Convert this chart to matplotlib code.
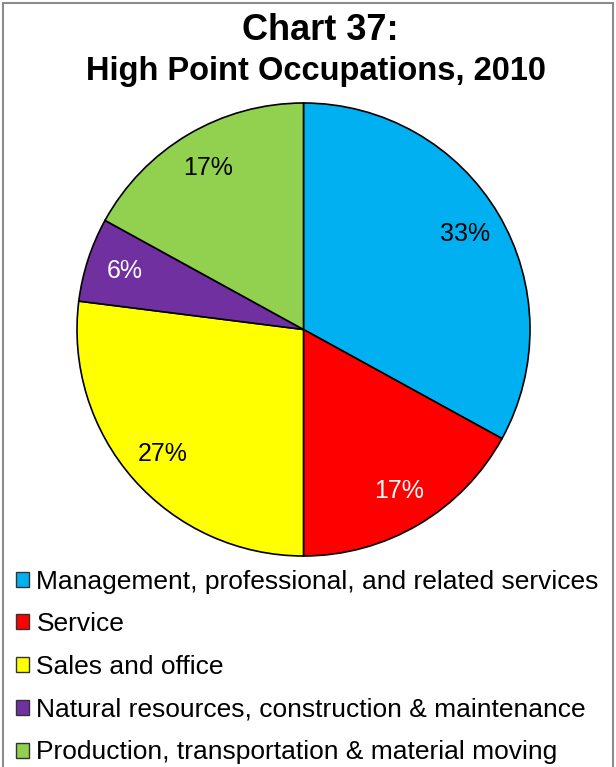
import matplotlib
matplotlib.use("Agg")
import matplotlib.pyplot as plt
from matplotlib.patches import Patch, Rectangle

plt.rcParams['font.family'] = ['Liberation Sans', 'DejaVu Sans']

categories = [
    "Management, professional, and related services",
    "Service",
    "Sales and office",
    "Natural resources, construction & maintenance",
    "Production, transportation & material moving",
]
shares = [33, 17, 27, 6, 17]
colors = ["#00B0F0", "#FF0000", "#FFFF00", "#7030A0", "#92D050"]
label_colors = ["black", "white", "black", "white", "black"]

W, H = 616, 767
fig = plt.figure(figsize=(W / 100, H / 100), dpi=100)

# light gray frame around the chart area
fig.patches.append(Rectangle((3 / W, -0.05), 610 / W, 1.05 - 3 / H,
                             transform=fig.transFigure, fill=False,
                             edgecolor="#8C8C8C", linewidth=1.5))

# pie axes, square in pixels
left, top, size = 77, 103, 453
ax = fig.add_axes([left / W, 1 - (top + size) / H, size / W, size / H])
wedges, texts, autotexts = ax.pie(
    shares, colors=colors, startangle=90, counterclock=False,
    autopct='%.0f%%', pctdistance=0.83, radius=1,
    wedgeprops=dict(edgecolor="black", linewidth=1.2),
    textprops=dict(fontsize=18))
for t, c in zip(autotexts, label_colors):
    t.set_color(c)
ax.set_xlim(-1.0, 1.0)
ax.set_ylim(-1.0, 1.0)
ax.set_aspect('equal')
ax.axis('off')

fig.text(320 / W, 1 - 40 / H, "Chart 37:", ha='center', va='baseline',
         fontsize=26, fontweight='bold')
fig.text(316 / W, 1 - 80 / H, "High Point Occupations, 2010", ha='center',
         va='baseline', fontsize=23.5, fontweight='bold')

handles = [Patch(facecolor=c, edgecolor="#333333", linewidth=1) for c in colors]
fig.legend(handles, categories, loc='upper left',
           bbox_to_anchor=(5.5 / W, 1 - 559 / H), frameon=False,
           fontsize=19, handlelength=0.5, handleheight=0.5,
           handletextpad=0.27, labelspacing=0.71, borderaxespad=0)

fig.savefig("out.png", dpi=100)
